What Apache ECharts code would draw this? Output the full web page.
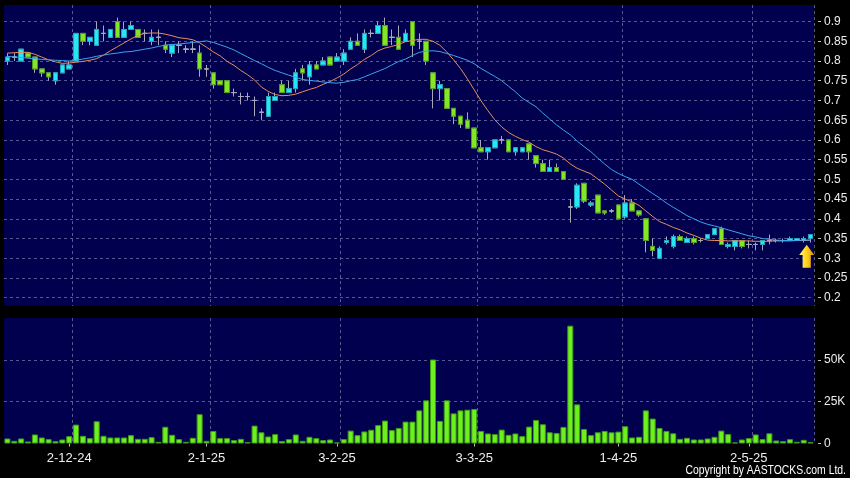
<!DOCTYPE html>
<html><head><meta charset="utf-8">
<script src="https://cdn.jsdelivr.net/npm/echarts@6/dist/echarts.min.js"></script>
<style>html,body{margin:0;padding:0;background:#000;}#c{width:850px;height:478px;}</style>
</head><body><div id="c"></div>
<script>
const dates = [
 '19-11-24','20-11-24','21-11-24','22-11-24','25-11-24','26-11-24','27-11-24','28-11-24','29-11-24',
 '2-12-24','3-12-24','4-12-24','5-12-24','6-12-24','9-12-24','10-12-24','11-12-24','12-12-24','13-12-24',
 '16-12-24','17-12-24','18-12-24','19-12-24','20-12-24','23-12-24','24-12-24','27-12-24','30-12-24','31-12-24',
 '2-1-25','3-1-25','6-1-25','7-1-25','8-1-25','9-1-25','10-1-25','13-1-25','14-1-25','15-1-25','16-1-25','17-1-25',
 '20-1-25','21-1-25','22-1-25','23-1-25','24-1-25','27-1-25','28-1-25',
 '3-2-25','4-2-25','5-2-25','6-2-25','7-2-25','10-2-25','11-2-25','12-2-25','13-2-25','14-2-25',
 '17-2-25','18-2-25','19-2-25','20-2-25','21-2-25','24-2-25','25-2-25','26-2-25','27-2-25','28-2-25',
 '3-3-25','4-3-25','5-3-25','6-3-25','7-3-25','10-3-25','11-3-25','12-3-25','13-3-25','14-3-25',
 '17-3-25','18-3-25','19-3-25','20-3-25','21-3-25','24-3-25','25-3-25','26-3-25','27-3-25','28-3-25','31-3-25',
 '1-4-25','2-4-25','3-4-25','7-4-25','8-4-25','9-4-25','10-4-25','11-4-25','14-4-25','15-4-25','16-4-25','17-4-25',
 '22-4-25','23-4-25','24-4-25','25-4-25','28-4-25','29-4-25','30-4-25',
 '2-5-25','6-5-25','7-5-25','8-5-25','9-5-25','12-5-25','13-5-25','14-5-25','15-5-25','16-5-25'
];
const tickLabels = ['2-12-24','2-1-25','3-2-25','3-3-25','1-4-25','2-5-25'];

const opens = [
 0.80,0.81,0.80,0.82,0.81,0.78,0.77,0.75,0.77,0.78,
 0.80,0.87,0.85,0.84,0.87,0.86,0.90,0.86,0.88,0.88,
 0.87,0.85,0.86,0.84,0.82,0.84,0.83,0.83,0.82,0.78,
 0.77,0.75,0.75,0.72,0.71,0.71,0.70,0.67,0.66,0.70,
 0.74,0.72,0.73,0.78,0.76,0.79,0.79,0.81,0.80,0.80,
 0.83,0.85,0.83,0.87,0.87,0.89,0.86,0.86,0.85,0.90,
 0.85,0.85,0.77,0.73,0.73,0.68,0.66,0.65,0.63,0.58,
 0.57,0.58,0.60,0.60,0.57,0.57,0.59,0.56,0.54,0.52,
 0.53,0.52,0.43,0.43,0.49,0.435,0.46,0.42,0.42,0.435,
 0.405,0.44,0.42,0.40,0.33,0.30,0.34,0.33,0.355,0.34,
 0.35,0.345,0.35,0.36,0.375,0.33,0.33,0.345,0.335,0.335,
 0.335,0.345,0.345,0.345,0.345,0.345,0.345,0.35
];
const closes = [
 0.81,0.81,0.83,0.81,0.78,0.77,0.76,0.77,0.79,0.79,
 0.87,0.85,0.86,0.88,0.87,0.88,0.86,0.88,0.89,0.86,
 0.87,0.86,0.86,0.83,0.84,0.84,0.83,0.83,0.78,0.78,
 0.74,0.74,0.72,0.72,0.71,0.71,0.70,0.67,0.71,0.71,
 0.72,0.73,0.77,0.77,0.79,0.78,0.80,0.79,0.81,0.82,
 0.85,0.84,0.87,0.87,0.89,0.84,0.86,0.83,0.87,0.84,
 0.85,0.80,0.73,0.74,0.68,0.66,0.64,0.63,0.58,0.57,
 0.58,0.60,0.60,0.57,0.58,0.58,0.57,0.54,0.52,0.53,
 0.52,0.50,0.43,0.485,0.445,0.44,0.415,0.415,0.42,0.40,
 0.44,0.42,0.41,0.345,0.32,0.325,0.345,0.355,0.345,0.35,
 0.34,0.345,0.36,0.375,0.335,0.335,0.345,0.33,0.335,0.335,
 0.345,0.345,0.345,0.345,0.35,0.35,0.35,0.36
];
const lows = [
 0.79,0.80,0.80,0.81,0.77,0.76,0.75,0.74,0.77,0.78,
 0.80,0.84,0.84,0.84,0.85,0.86,0.86,0.86,0.88,0.86,
 0.85,0.84,0.84,0.82,0.81,0.82,0.82,0.82,0.76,0.76,
 0.73,0.74,0.72,0.71,0.69,0.70,0.66,0.65,0.66,0.70,
 0.72,0.72,0.72,0.75,0.74,0.78,0.79,0.79,0.80,0.79,
 0.83,0.84,0.82,0.86,0.87,0.84,0.84,0.83,0.85,0.81,
 0.83,0.79,0.68,0.70,0.68,0.64,0.63,0.63,0.58,0.57,
 0.55,0.58,0.59,0.57,0.56,0.57,0.55,0.53,0.52,0.52,
 0.52,0.50,0.39,0.425,0.44,0.43,0.415,0.41,0.415,0.40,
 0.40,0.42,0.405,0.315,0.305,0.30,0.335,0.325,0.345,0.34,
 0.335,0.34,0.35,0.36,0.335,0.325,0.32,0.325,0.325,0.32,
 0.32,0.335,0.34,0.34,0.345,0.345,0.34,0.34
];
const highs = [
 0.82,0.82,0.83,0.82,0.81,0.78,0.77,0.77,0.79,0.80,
 0.87,0.87,0.86,0.90,0.89,0.88,0.91,0.90,0.90,0.88,
 0.88,0.88,0.88,0.85,0.84,0.85,0.84,0.85,0.84,0.79,
 0.77,0.75,0.75,0.73,0.72,0.72,0.71,0.68,0.72,0.72,
 0.75,0.75,0.78,0.79,0.80,0.80,0.81,0.81,0.82,0.83,
 0.86,0.87,0.88,0.88,0.90,0.91,0.88,0.89,0.88,0.90,
 0.87,0.85,0.77,0.75,0.73,0.68,0.66,0.67,0.63,0.60,
 0.58,0.60,0.61,0.60,0.58,0.58,0.59,0.56,0.55,0.55,
 0.54,0.52,0.45,0.49,0.49,0.445,0.46,0.42,0.425,0.435,
 0.46,0.45,0.42,0.40,0.35,0.33,0.355,0.36,0.36,0.355,
 0.355,0.35,0.36,0.375,0.38,0.34,0.345,0.345,0.345,0.34,
 0.345,0.36,0.35,0.35,0.355,0.35,0.355,0.36
];
const volumes = [
 3000,1600,3000,1200,5400,3600,2600,1400,2400,4400,
 11300,4600,3200,13300,4600,3600,3600,3600,5000,2800,
 2800,3800,1000,10000,5200,2600,1000,3400,17500,1600,
 7500,3200,3200,2000,2800,800,10700,6700,4200,5600,
 1500,2600,5400,1600,4000,3200,2000,2400,600,2600,
 7700,5000,7200,8200,11000,13700,8000,9300,13100,13100,
 19800,25800,50200,13500,25800,18000,19800,20200,20600,7500,
 6000,5600,8300,5200,6000,4400,10100,14000,11500,6700,
 6300,9900,70400,23400,8600,5000,6700,7500,6700,7100,
 10300,3600,4000,19800,14900,9300,7500,6100,2800,3400,
 2400,2400,3000,4000,7700,5600,600,2400,3200,5400,
 2600,6100,1800,1400,2600,1000,2200,800
];
const maShort = [
 0.820,0.821,0.822,0.822,0.817,0.810,0.803,0.798,0.794,0.795,
 0.797,0.799,0.802,0.806,0.815,0.826,0.836,0.846,0.856,0.865,
 0.870,0.871,0.871,0.868,0.864,0.859,0.857,0.854,0.846,0.835,
 0.823,0.813,0.799,0.789,0.776,0.765,0.752,0.734,0.723,0.715,
 0.712,0.713,0.716,0.722,0.728,0.733,0.741,0.748,0.757,0.767,
 0.780,0.791,0.804,0.814,0.826,0.833,0.837,0.842,0.849,0.852,
 0.855,0.855,0.850,0.840,0.823,0.803,0.781,0.755,0.727,0.699,
 0.674,0.651,0.633,0.619,0.609,0.601,0.594,0.583,0.575,0.570,
 0.564,0.554,0.539,0.528,0.521,0.514,0.501,0.488,0.473,0.458,
 0.450,0.443,0.434,0.420,0.406,0.393,0.386,0.378,0.372,0.364,
 0.358,0.351,0.346,0.345,0.345,0.344,0.344,0.344,0.344,0.343,
 0.343,0.343,0.344,0.344,0.344,0.345,0.345,0.346
];
const maLong = [
 0.812,0.810,0.809,0.807,0.806,0.804,0.803,0.802,0.801,0.800,
 0.802,0.805,0.808,0.812,0.815,0.818,0.820,0.823,0.824,0.827,
 0.830,0.833,0.837,0.840,0.842,0.843,0.845,0.847,0.849,0.851,
 0.847,0.841,0.835,0.828,0.819,0.810,0.801,0.793,0.784,0.776,
 0.770,0.764,0.759,0.753,0.751,0.749,0.747,0.745,0.744,0.746,
 0.750,0.753,0.760,0.767,0.774,0.781,0.790,0.799,0.805,0.814,
 0.822,0.825,0.826,0.824,0.819,0.814,0.808,0.802,0.793,0.781,
 0.771,0.761,0.750,0.736,0.722,0.706,0.695,0.684,0.668,0.653,
 0.638,0.625,0.613,0.597,0.583,0.570,0.554,0.539,0.525,0.515,
 0.507,0.500,0.488,0.476,0.464,0.453,0.440,0.429,0.419,0.408,
 0.400,0.392,0.386,0.382,0.377,0.372,0.367,0.362,0.357,0.354,
 0.350,0.348,0.346,0.345,0.345,0.345,0.346,0.346
];
const arrowPoint = ['15-5-25', 0.305];

const labelSet = new Set(tickLabels);
const showLabel = (i, v) => labelSet.has(v);
const showSplit = (i) => i > 0 && labelSet.has(dates[i - 1]);

const ohlc = dates.map((d, i) => [opens[i], closes[i], lows[i], highs[i]]);
const bodies = dates.map((d, i) => [opens[i], closes[i], Math.min(opens[i], closes[i]), Math.max(opens[i], closes[i])]);

const gridLine = { show: true, lineStyle: { color: '#575790', type: [3, 3], width: 1 } };
const plotBg = '#00004f';
const wick = '#a8a8ba';
const labelFont = 'Liberation Sans';

const chart = echarts.init(document.getElementById('c'), null, { renderer: 'canvas' });
chart.setOption({
  backgroundColor: '#000000',
  animation: false,
  grid: [
    { left: 4, top: 5, width: 810, height: 301, show: true, backgroundColor: plotBg, borderWidth: 0, outerBoundsMode: 'none' },
    { left: 4, top: 318, width: 810, height: 125.5, show: true, backgroundColor: plotBg, borderWidth: 0, outerBoundsMode: 'none' }
  ],
  xAxis: [
    { gridIndex: 0, type: 'category', data: dates, boundaryGap: true,
      axisLine: { show: false }, axisTick: { show: false }, axisLabel: { show: false },
      splitLine: Object.assign({ interval: showSplit }, gridLine) },
    { gridIndex: 1, type: 'category', data: dates, boundaryGap: true, offset: 3,
      axisLine: { show: false },
      axisTick: { show: true, alignWithLabel: true, interval: showLabel, length: 3, lineStyle: { color: '#c0c0c0' } },
      axisLabel: { interval: showLabel, color: '#eeeeee', fontFamily: labelFont, fontSize: 13, margin: 5 },
      splitLine: Object.assign({ interval: showSplit }, gridLine) }
  ],
  yAxis: [
    { gridIndex: 0, type: 'value', position: 'right', min: 0.179, max: 0.942, splitNumber: 15, offset: 4,
      axisLine: { show: false },
      axisTick: { show: true, length: 3, lineStyle: { color: '#c0c0c0' } },
      axisLabel: { margin: 6, color: '#eeeeee', fontFamily: labelFont, fontSize: 12, showMinLabel: false, showMaxLabel: false },
      splitLine: Object.assign({ showMinLine: false, showMaxLine: false }, gridLine) },
    { gridIndex: 1, type: 'value', position: 'right', min: 0, max: 75000, interval: 25000, offset: 4,
      axisLine: { show: false },
      axisTick: { show: true, length: 3, lineStyle: { color: '#c0c0c0' } },
      axisLabel: { margin: 6, color: '#eeeeee', fontFamily: labelFont, fontSize: 12, showMaxLabel: false,
        formatter: v => v === 0 ? '0' : (v / 1000) + 'K' },
      splitLine: Object.assign({ showMinLine: false, showMaxLine: false }, gridLine) }
  ],
  series: [
    { name: 'wick', type: 'candlestick', xAxisIndex: 0, yAxisIndex: 0, data: ohlc, barWidth: 5,
      itemStyle: { color: 'rgba(0,0,0,0)', color0: 'rgba(0,0,0,0)', borderColor: wick, borderColor0: wick, borderColorDoji: wick, borderWidth: 1 } },
    { name: 'body', type: 'candlestick', xAxisIndex: 0, yAxisIndex: 0, data: bodies, barWidth: 5,
      itemStyle: { color: '#26e8f4', color0: '#84e626', borderColor: '#1ba4b8', borderColor0: '#4e9c1c', borderColorDoji: wick, borderWidth: 1 },
      markPoint: {
        silent: true,
        symbol: 'path://M22 0 L44 30 L34 30 L34 68 L10 68 L10 30 L0 30 Z',
        symbolSize: [15, 23], symbolOffset: [3, 0],
        label: { show: false },
        itemStyle: { color: { type: 'linear', x: 0, y: 0, x2: 1, y2: 0,
          colorStops: [{ offset: 0, color: '#fff27a' }, { offset: 0.5, color: '#ffd21e' }, { offset: 1, color: '#d99100' }] } },
        data: [{ coord: arrowPoint }]
      } },
    { name: 'MA10', type: 'line', xAxisIndex: 0, yAxisIndex: 0, data: maShort, symbol: 'none',
      lineStyle: { color: '#e98d5c', width: 1 } },
    { name: 'MA20', type: 'line', xAxisIndex: 0, yAxisIndex: 0, data: maLong, symbol: 'none',
      lineStyle: { color: '#3ea4ea', width: 1 } },
    { name: 'Volume', type: 'bar', xAxisIndex: 1, yAxisIndex: 1, data: volumes, barWidth: 6,
      itemStyle: { color: '#6df01e', borderColor: '#3f9a16', borderWidth: 1 } }
  ],
  graphic: [
    { type: 'text', x: 846, y: 464, scaleX: 0.8, silent: true,
      style: { text: 'Copyright by AASTOCKS.com Ltd.', fill: '#ffffff', textAlign: 'right', textVerticalAlign: 'top',
        font: '13px "Liberation Sans", sans-serif' } }
  ]
});
</script>
</body></html>
